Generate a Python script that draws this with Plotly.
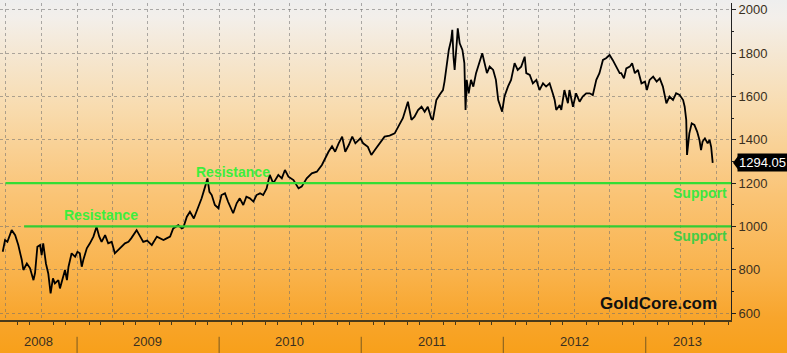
import base64
import plotly.graph_objects as go

# ---- data (gold price, USD/oz) ----
dates = [
    "2008-06-24", "2008-06-30", "2008-07-06", "2008-07-17", "2008-07-26", "2008-08-03", "2008-08-12",
    "2008-08-16", "2008-08-25", "2008-09-02", "2008-09-11", "2008-09-15", "2008-09-21", "2008-09-28",
    "2008-10-02", "2008-10-06", "2008-10-13", "2008-10-19", "2008-10-25", "2008-10-31", "2008-11-05",
    "2008-11-14", "2008-11-18", "2008-11-27", "2008-12-01", "2008-12-06", "2008-12-10", "2008-12-14",
    "2008-12-18", "2008-12-27",
    "2009-01-02", "2009-01-08", "2009-01-13", "2009-01-17", "2009-01-26", "2009-02-03", "2009-02-12",
    "2009-02-20", "2009-02-27", "2009-03-05", "2009-03-14", "2009-03-22", "2009-03-31", "2009-04-08",
    "2009-04-17", "2009-04-26", "2009-05-04", "2009-05-13", "2009-05-20", "2009-06-03", "2009-06-12",
    "2009-06-20", "2009-06-30", "2009-07-12", "2009-07-25", "2009-08-02", "2009-08-11", "2009-08-19",
    "2009-08-28", "2009-09-05", "2009-09-18", "2009-09-27", "2009-10-01", "2009-10-10", "2009-10-18",
    "2009-10-28", "2009-11-06", "2009-11-17", "2009-11-26", "2009-12-02", "2009-12-07", "2009-12-13",
    "2009-12-21", "2009-12-30",
    "2010-01-07", "2010-01-16", "2010-01-24", "2010-02-06", "2010-02-15", "2010-02-23", "2010-03-04",
    "2010-03-12", "2010-03-21", "2010-03-30", "2010-04-07", "2010-04-16", "2010-04-24", "2010-05-03",
    "2010-05-11", "2010-05-20", "2010-06-02", "2010-06-11", "2010-06-19", "2010-06-28", "2010-07-11",
    "2010-07-24", "2010-08-01", "2010-08-14", "2010-08-27", "2010-09-09", "2010-09-22", "2010-09-30",
    "2010-10-09", "2010-10-18", "2010-10-26", "2010-11-04", "2010-11-13", "2010-11-21", "2010-11-30",
    "2010-12-09", "2010-12-17", "2010-12-30",
    "2011-01-06", "2011-01-18", "2011-01-27", "2011-02-05", "2011-02-18", "2011-03-02", "2011-03-15",
    "2011-03-28", "2011-04-09", "2011-04-18", "2011-05-01", "2011-05-10", "2011-05-18", "2011-05-27",
    "2011-06-05", "2011-06-13", "2011-06-21", "2011-06-30", "2011-07-04", "2011-07-13", "2011-07-21",
    "2011-07-30", "2011-08-03", "2011-08-09", "2011-08-14", "2011-08-20", "2011-08-23", "2011-08-26",
    "2011-08-29", "2011-09-04", "2011-09-06", "2011-09-11", "2011-09-18", "2011-09-23", "2011-09-26",
    "2011-09-29", "2011-10-04", "2011-10-10", "2011-10-16", "2011-10-23", "2011-11-01", "2011-11-08",
    "2011-11-14", "2011-11-20", "2011-11-27", "2011-12-06", "2011-12-13", "2011-12-19", "2011-12-29",
    "2012-01-04", "2012-01-13", "2012-01-21", "2012-01-30", "2012-02-07", "2012-02-16", "2012-02-25",
    "2012-02-29", "2012-03-09", "2012-03-17", "2012-03-26", "2012-04-03", "2012-04-12", "2012-04-20",
    "2012-04-29", "2012-05-07", "2012-05-12", "2012-05-16", "2012-05-25", "2012-05-29", "2012-06-06",
    "2012-06-15", "2012-06-19", "2012-06-28", "2012-07-06", "2012-07-15", "2012-07-23", "2012-08-01",
    "2012-08-10", "2012-08-18", "2012-08-27", "2012-09-04", "2012-09-13", "2012-09-21", "2012-09-30",
    "2012-10-08", "2012-10-17", "2012-10-26", "2012-10-30", "2012-11-06", "2012-11-12", "2012-11-21",
    "2012-11-27", "2012-12-04", "2012-12-12", "2012-12-21", "2012-12-30",
    "2013-01-04", "2013-01-11", "2013-01-20", "2013-01-29", "2013-02-06", "2013-02-14", "2013-02-23",
    "2013-03-03", "2013-03-12", "2013-03-20", "2013-03-29", "2013-04-07", "2013-04-11", "2013-04-15",
    "2013-04-17", "2013-04-23", "2013-04-29", "2013-05-06", "2013-05-13", "2013-05-19", "2013-05-23",
    "2013-05-27", "2013-06-02", "2013-06-09", "2013-06-14", "2013-06-18", "2013-06-22",
]
prices = [
    883, 937, 929, 983, 960, 914, 845,
    799, 829, 808, 752, 785, 906, 914,
    868, 922, 829, 783, 691, 760, 737,
    752, 714, 768, 799, 752, 814, 845,
    876, 860,
    883, 876, 814, 845, 899, 922, 953,
    999, 953, 929, 960, 922, 929, 876,
    891, 906, 922, 929, 945, 983, 953,
    929, 935, 914, 953, 945, 937, 945,
    953, 991, 1006, 991, 995, 1045, 1068,
    1037, 1076, 1130, 1184, 1222, 1160, 1145,
    1099, 1084,
    1145, 1153, 1114, 1061, 1107, 1130, 1099,
    1137, 1130, 1115, 1145, 1153, 1145, 1176,
    1238, 1199, 1238, 1222, 1261, 1230, 1214,
    1176, 1184, 1222, 1245, 1253, 1284, 1314,
    1345, 1370, 1345, 1384, 1415, 1345, 1376,
    1415, 1384, 1407,
    1384, 1368, 1330, 1353, 1384, 1415, 1420,
    1430, 1470, 1500, 1576, 1492, 1507, 1538,
    1553, 1530, 1553, 1500, 1492, 1584, 1607,
    1630, 1669, 1754, 1815, 1861, 1908, 1784,
    1723, 1861, 1915, 1846, 1815, 1754, 1538,
    1677, 1615, 1677, 1646, 1708, 1754, 1800,
    1754, 1708, 1738, 1723, 1677, 1584, 1530,
    1600, 1646, 1677, 1754, 1723, 1738, 1784,
    1708, 1700, 1661, 1677, 1630, 1661, 1646,
    1661, 1615, 1584, 1538, 1561, 1538, 1630,
    1569, 1630, 1553, 1615, 1576, 1600, 1615,
    1615, 1607, 1677, 1708, 1769, 1777, 1792,
    1769, 1738, 1708, 1708, 1684, 1730, 1738,
    1754, 1708, 1723, 1661, 1669,
    1630, 1677, 1692, 1669, 1684, 1646, 1569,
    1600, 1584, 1615, 1607, 1584, 1553, 1492,
    1330, 1430, 1476, 1469, 1438, 1399, 1353,
    1392, 1407, 1384, 1399, 1368, 1294.05,
]
last_value = 1294.05

# horizontal support / resistance levels
level_values = [1200, 1000]
level_starts = ["2008-07-01", "2008-08-18"]
level_colors = ["#33dd33", "#33cc33"]

# text labels
resistance_labels = ["Resistance", "Resistance"]
resistance_dates = ["2009-03-03", "2010-02-05"]
resistance_values = [1000, 1200]
support_labels = ["Support", "Support"]
support_values = [1200, 1000]
support_colors = ["#3ee63e", "#44cc44"]

year_labels = ["2008", "2009", "2010", "2011", "2012", "2013"]
year_label_dates = ["2008-09-23", "2009-07-02", "2010-07-02", "2011-07-02", "2012-07-02", "2013-04-19"]
year_boundaries = ["2009-01-01", "2010-01-01", "2011-01-01", "2012-01-01", "2013-01-01"]

x_range = ["2008-06-17", "2013-08-08"]
y_range = [568, 2032]

FONT = "Arial, Liberation Sans, sans-serif"

fig = go.Figure()
fig.add_trace(go.Scatter(
    x=dates, y=prices, mode="lines",
    line=dict(color="#000000", width=1.8),
    hoverinfo="x+y", showlegend=False,
))

# support / resistance lines
for v, s, c in zip(level_values, level_starts, level_colors):
    fig.add_shape(type="line", xref="x", yref="y", x0=s, x1=x_range[1], y0=v, y1=v,
                  line=dict(color=c, width=2.2), layer="above")

for t, d, v in zip(resistance_labels, resistance_dates, resistance_values):
    fig.add_annotation(x=d, y=v, xref="x", yref="y", text="<b>%s</b>" % t, showarrow=False,
                       xanchor="center", yanchor="bottom", yshift=1,
                       font=dict(family=FONT, size=14, color="#3cee3c"))
for t, v, c in zip(support_labels, support_values, support_colors):
    fig.add_annotation(x=1, y=v, xref="paper", yref="y", text="<b>%s</b>" % t, showarrow=False,
                       xanchor="right", yanchor="top", xshift=-2, yshift=0,
                       font=dict(family=FONT, size=14, color=c))

# GoldCore watermark
fig.add_annotation(x=1, y=0, xref="paper", yref="paper", text="<b>GoldCore.com</b>", showarrow=False,
                   xanchor="right", yanchor="bottom", xshift=-12, yshift=5,
                   font=dict(family=FONT, size=17, color="#111111"))

# year labels and separators below the axis
for t, d in zip(year_labels, year_label_dates):
    fig.add_annotation(x=d, y=0, xref="x", yref="paper", text=t, showarrow=False,
                       xanchor="center", yanchor="top", yshift=-12,
                       font=dict(family=FONT, size=13, color="#3a3020"))
for d in year_boundaries:
    fig.add_shape(type="line", xref="x", yref="paper", x0=d, x1=d, y0=-0.053, y1=-0.104,
                  line=dict(color="#7a5a20", width=1))

# last value tag
fig.add_annotation(x=1, y=last_value, xref="paper", yref="y", text="%.2f" % last_value,
                   showarrow=False, xanchor="left", yanchor="middle", xshift=6,
                   bgcolor="#000000", borderpad=1,
                   font=dict(family=FONT, size=13, color="#ffffff"))
fig.add_shape(type="path", xref="paper", yref="y", xsizemode="pixel", ysizemode="pixel",
              xanchor=1, yanchor=last_value, path="M 2 0 L 8 8 L 8 -8 Z",
              fillcolor="#000000", line=dict(width=0))

# background gradient
svg = ('<svg xmlns="http://www.w3.org/2000/svg" width="10" height="100" preserveAspectRatio="none">'
       '<defs><linearGradient id="g" x1="0" y1="0" x2="0" y2="1">'
       '<stop offset="0" stop-color="#eeeeee"/>'
       '<stop offset="0.05" stop-color="#f3efea"/>'
       '<stop offset="0.3" stop-color="#f8dcb0"/>'
       '<stop offset="0.55" stop-color="#fac476"/>'
       '<stop offset="0.78" stop-color="#f9b24a"/>'
       '<stop offset="0.9" stop-color="#f8a52c"/>'
       '<stop offset="1" stop-color="#f8a01a"/>'
       '</linearGradient></defs><rect width="10" height="100" fill="url(#g)"/></svg>')
src = "data:image/svg+xml;base64," + base64.b64encode(svg.encode()).decode()
fig.add_layout_image(source=src, xref="paper", yref="paper", x=0, y=1.0095,
                     sizex=787 / 731, sizey=353 / 317, xanchor="left", yanchor="top",
                     sizing="stretch", layer="below")

fig.update_layout(
    width=787, height=353,
    margin=dict(l=0, r=56, t=3, b=33),
    paper_bgcolor="#f8a01a", plot_bgcolor="rgba(0,0,0,0)",
    showlegend=False,
    font=dict(family=FONT, size=13, color="#3a3020"),
)
fig.update_xaxes(
    type="date", range=x_range, showticklabels=False,
    tick0="2008-01-01", dtick="M3", ticks="",
    showgrid=True, gridcolor="rgba(110,110,110,0.55)", griddash="dot", gridwidth=1,
    showline=True, linecolor="#4a3a1a", linewidth=2,
    minor=dict(dtick="M1", tick0="2008-01-01", ticks="outside", ticklen=3,
               tickcolor="#4a3a1a", showgrid=False),
    zeroline=False,
)
fig.update_yaxes(
    side="right", range=y_range, tick0=0, dtick=200,
    showgrid=True, gridcolor="rgba(110,110,110,0.55)", griddash="dot", gridwidth=1,
    ticks="outside", ticklen=4, tickcolor="#222222",
    tickfont=dict(family=FONT, size=13, color="#3a3020"),
    showline=True, linecolor="#222222", linewidth=1,
    minor=dict(dtick=100, ticks="outside", ticklen=2, tickcolor="#222222", showgrid=False),
    zeroline=False,
)

fig.write_html("out.html")
